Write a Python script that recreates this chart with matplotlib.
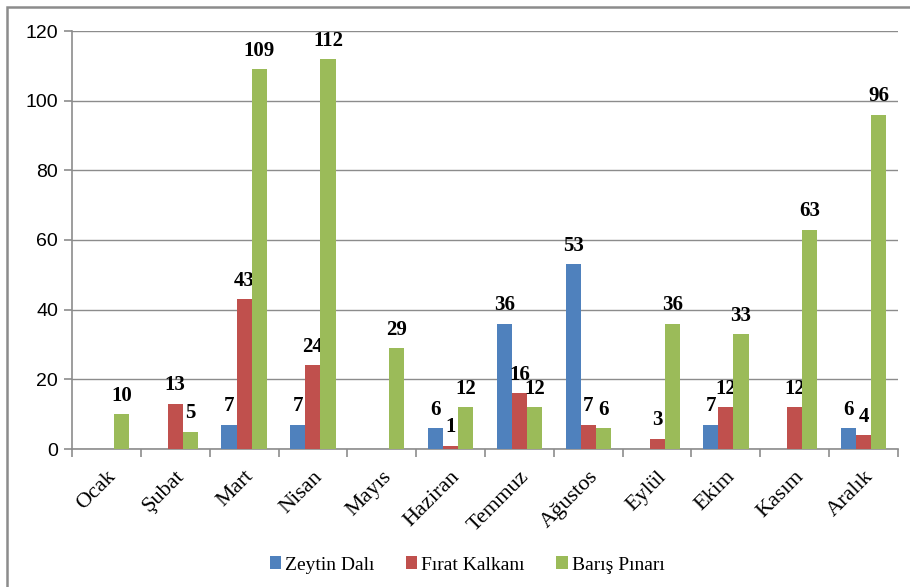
import matplotlib.pyplot as plt
from matplotlib.patches import Rectangle
import numpy as np

months = ['Ocak', 'Şubat', 'Mart', 'Nisan', 'Mayıs', 'Haziran', 'Temmuz',
          'Ağustos', 'Eylül', 'Ekim', 'Kasım', 'Aralık']
zeytin = [0, 0, 7, 7, 0, 6, 36, 53, 0, 7, 0, 6]
firat = [0, 13, 43, 24, 0, 1, 16, 7, 3, 12, 12, 4]
baris = [10, 5, 109, 112, 29, 12, 12, 6, 36, 33, 63, 96]
series_names = ['Zeytin Dalı', 'Fırat Kalkanı', 'Barış Pınarı']
colors = ['#4F81BD', '#C0504D', '#9BBB59']

fig = plt.figure(figsize=(9.1, 5.87), dpi=100)
ax = fig.add_axes([72/910, 1-449/587, 826/910, 418/587])

# frame round the whole picture
fig.patches.append(Rectangle((7/910, -0.02), 1.0, 1-7/587+0.02, transform=fig.transFigure,
                             fill=False, edgecolor='#8c8c8c', linewidth=1.8))

x = np.arange(len(months))
w = 0.22
for i, (vals, name, c) in enumerate(zip([zeytin, firat, baris], series_names, colors)):
    pos = x + (i - 1) * w
    ax.bar(pos, vals, width=w, color=c, label=name, zorder=3)
    for p, v in zip(pos, vals):
        if v:
            ax.annotate(str(v), (p, v), xytext=(0, 6), textcoords='offset points',
                        ha='center', va='bottom', fontsize=15, fontweight='bold',
                        family='Liberation Serif')

ax.set_xlim(-0.5, len(months) - 0.5)
ax.set_ylim(0, 120)
ax.set_yticks(range(0, 121, 20))
ax.grid(axis='y', color='#8c8c8c', linewidth=1, zorder=0)
for s in ['top', 'right']:
    ax.spines[s].set_visible(False)
for s in ['left', 'bottom']:
    ax.spines[s].set_color('#8c8c8c')
    ax.spines[s].set_linewidth(1.2)

ax.set_xticks(x)
ax.set_xticklabels(months, rotation=45, ha='right', rotation_mode='anchor',
                   fontsize=16, family='Liberation Serif')
ax.set_xticks(np.arange(-0.5, len(months)), minor=True)
ax.tick_params(axis='x', which='major', length=0, pad=13)
ax.tick_params(axis='x', which='minor', length=6, color='#8c8c8c', width=1.2)
ax.tick_params(axis='y', length=6, color='#8c8c8c', width=1.2, pad=4)
for t in ax.get_yticklabels():
    t.set_fontsize(14)
    t.set_family('Liberation Sans')

fig.legend(loc='center', bbox_to_anchor=(467/910, 1-565/587), ncol=3, frameon=False,
           prop={'family': 'Liberation Serif', 'size': 14}, handlelength=0.6,
           handleheight=0.6, handletextpad=0.2, columnspacing=1.6)

fig.savefig('out.png', dpi=100)
